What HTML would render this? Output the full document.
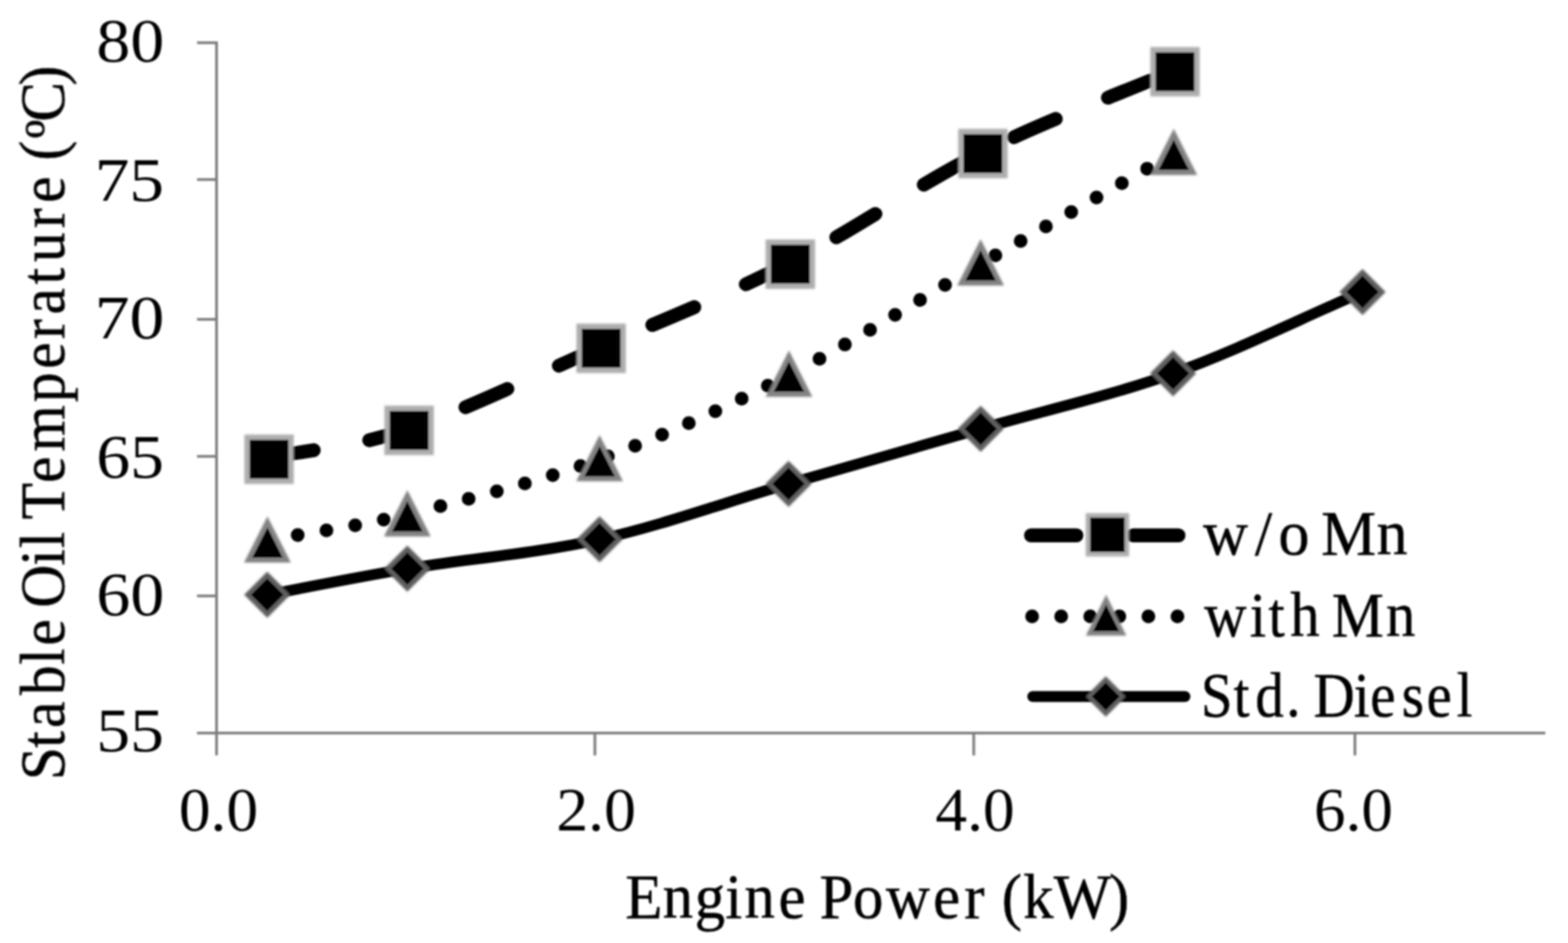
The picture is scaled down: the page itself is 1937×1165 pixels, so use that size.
<!DOCTYPE html>
<html lang="en"><head><meta charset="utf-8"><title>Stable Oil Temperature vs Engine Power</title>
<style>html,body{margin:0;padding:0;background:#fff;overflow:hidden;}body{width:1937px;height:1165px;}svg{display:block;}text{font-family:"Liberation Serif",serif;fill:#000;}text.w{stroke:#000;stroke-width:0.6px;stroke-linejoin:round;}</style></head><body>
<svg width="1937" height="1165" viewBox="0 0 1937 1165">
<defs><filter id="b" filterUnits="userSpaceOnUse" x="0" y="0" width="1937" height="1165"><feGaussianBlur stdDeviation="1.0"/></filter><filter id="a" filterUnits="userSpaceOnUse" x="0" y="0" width="1937" height="1165"><feGaussianBlur stdDeviation="0.6"/></filter><filter id="m" filterUnits="userSpaceOnUse" x="0" y="0" width="1937" height="1165"><feGaussianBlur stdDeviation="0.9"/></filter></defs>
<rect width="1937" height="1165" fill="#fff"/>
<g filter="url(#b)">
<g stroke="#7c7c7c" stroke-width="3.3" fill="none" filter="url(#a)">
<line x1="267.50" y1="51.20" x2="267.50" y2="933.30"/>
<line x1="243.40" y1="905.60" x2="1909.00" y2="905.60"/>
<line x1="243.40" y1="52.80" x2="267.50" y2="52.80"/>
<line x1="243.40" y1="221.80" x2="267.50" y2="221.80"/>
<line x1="243.40" y1="394.50" x2="267.50" y2="394.50"/>
<line x1="243.40" y1="563.80" x2="267.50" y2="563.80"/>
<line x1="243.40" y1="736.20" x2="267.50" y2="736.20"/>
<line x1="734.90" y1="905.60" x2="734.90" y2="933.30"/>
<line x1="1202.90" y1="905.60" x2="1202.90" y2="933.30"/>
<line x1="1673.80" y1="905.60" x2="1673.80" y2="933.30"/>
</g>
<g fill="none" stroke="#000" stroke-linecap="round" stroke-linejoin="round">
<path d="M330.10,734.80 C387.80,724.07 434.77,714.02 503.20,702.60 C571.63,691.18 662.22,683.77 740.70,666.30 C819.18,648.83 895.63,620.57 974.10,597.80 C1052.57,575.03 1132.32,552.45 1211.50,529.70 C1290.68,506.95 1370.58,489.45 1449.20,461.30 C1527.82,433.15 1605.20,394.30 1683.20,360.80" stroke-width="13.5"/>
<path d="M367.76,661.07h0 M403.28,655.24h0 M438.75,649.08h0 M474.05,642.04h0 M544.07,625.26h0 M578.95,616.36h0 M613.73,607.08h0 M648.38,597.32h0 M682.85,586.94h0 M717.08,575.79h0 M750.99,563.70h0 M784.58,550.76h0 M817.89,537.11h0 M850.93,522.80h0 M883.70,507.91h0 M916.23,492.48h0 M948.53,476.59h0 M1012.36,443.29h0 M1043.73,425.62h0 M1074.82,407.47h0 M1105.74,389.04h0 M1136.59,370.48h0 M1167.45,351.95h0 M1229.61,315.61h0 M1260.83,297.69h0 M1292.07,279.79h0 M1323.32,261.93h0 M1354.59,244.08h0 M1385.85,226.23h0 M1417.11,208.38h0" stroke-width="17.0"/>
<path d="M332.10,565.70 C389.77,553.80 436.73,552.85 505.10,530.00 C573.47,507.15 663.82,462.82 742.30,428.60 C820.78,394.38 897.40,364.80 976.00,324.70 C1054.60,284.60 1134.70,227.63 1213.90,188.00 C1293.10,148.37 1372.10,120.60 1451.20,86.90" stroke-width="17.2" stroke-dasharray="56.3 69.7"/>
</g>
<g fill="none" stroke="#000" stroke-linecap="round">
<path d="M1273.6,661.3 H1455.9" stroke-width="17.2" stroke-dasharray="56.3 69.7"/>
<path d="M1275,761.5 H1456" stroke-width="17.0" stroke-dasharray="0.01 35.9"/>
<path d="M1275.8,860.4 H1463.8" stroke-width="13.5"/>
</g>
<g filter="url(#m)">
<polygon points="330.10,706.30 358.60,734.80 330.10,763.30 301.60,734.80" fill="#5f5f5f"/>
<polygon points="503.20,674.10 531.70,702.60 503.20,731.10 474.70,702.60" fill="#5f5f5f"/>
<polygon points="740.70,637.80 769.20,666.30 740.70,694.80 712.20,666.30" fill="#5f5f5f"/>
<polygon points="974.10,569.30 1002.60,597.80 974.10,626.30 945.60,597.80" fill="#5f5f5f"/>
<polygon points="1211.50,501.20 1240.00,529.70 1211.50,558.20 1183.00,529.70" fill="#5f5f5f"/>
<polygon points="1449.20,432.80 1477.70,461.30 1449.20,489.80 1420.70,461.30" fill="#5f5f5f"/>
<polygon points="1683.20,332.30 1711.70,360.80 1683.20,389.30 1654.70,360.80" fill="#5f5f5f"/>
<polygon points="330.40,637.90 359.30,695.10 301.50,695.10" fill="#828282"/>
<polygon points="503.20,605.50 532.10,662.70 474.30,662.70" fill="#828282"/>
<polygon points="740.70,537.40 769.60,594.60 711.80,594.60" fill="#828282"/>
<polygon points="974.60,433.00 1003.50,490.20 945.70,490.20" fill="#828282"/>
<polygon points="1211.40,295.60 1240.30,352.80 1182.50,352.80" fill="#828282"/>
<polygon points="1450.00,159.10 1478.90,216.30 1421.10,216.30" fill="#828282"/>
<rect x="301.90" y="536.90" width="61.00" height="61.00" fill="#adadad"/>
<rect x="474.90" y="501.20" width="61.00" height="61.00" fill="#adadad"/>
<rect x="712.10" y="399.80" width="61.00" height="61.00" fill="#adadad"/>
<rect x="945.80" y="295.90" width="61.00" height="61.00" fill="#adadad"/>
<rect x="1183.70" y="159.20" width="61.00" height="61.00" fill="#adadad"/>
<rect x="1421.00" y="58.10" width="61.00" height="61.00" fill="#adadad"/>
<rect x="1341.25" y="633.95" width="53.50" height="53.50" fill="#adadad"/>
<polygon points="1366.40,734.75 1391.40,785.25 1341.40,785.25" fill="#828282"/>
<polygon points="1366.00,835.40 1391.00,860.40 1366.00,885.40 1341.00,860.40" fill="#5f5f5f"/>
</g>
<g>
<polygon points="330.10,714.79 350.11,734.80 330.10,754.81 310.09,734.80" fill="#000"/>
<polygon points="503.20,682.59 523.21,702.60 503.20,722.61 483.19,702.60" fill="#000"/>
<polygon points="740.70,646.29 760.71,666.30 740.70,686.31 720.69,666.30" fill="#000"/>
<polygon points="974.10,577.79 994.11,597.80 974.10,617.81 954.09,597.80" fill="#000"/>
<polygon points="1211.50,509.69 1231.51,529.70 1211.50,549.71 1191.49,529.70" fill="#000"/>
<polygon points="1449.20,441.29 1469.21,461.30 1449.20,481.31 1429.19,461.30" fill="#000"/>
<polygon points="1683.20,340.79 1703.21,360.80 1683.20,380.81 1663.19,360.80" fill="#000"/>
<polygon points="330.40,651.65 349.22,688.90 311.58,688.90" fill="#000"/>
<polygon points="503.20,619.25 522.02,656.50 484.38,656.50" fill="#000"/>
<polygon points="740.70,551.15 759.52,588.40 721.88,588.40" fill="#000"/>
<polygon points="974.60,446.75 993.42,484.00 955.78,484.00" fill="#000"/>
<polygon points="1211.40,309.35 1230.22,346.60 1192.58,346.60" fill="#000"/>
<polygon points="1450.00,172.85 1468.82,210.10 1431.18,210.10" fill="#000"/>
<rect x="308.50" y="543.50" width="47.80" height="47.80" fill="#000"/>
<rect x="481.50" y="507.80" width="47.80" height="47.80" fill="#000"/>
<rect x="718.70" y="406.40" width="47.80" height="47.80" fill="#000"/>
<rect x="952.40" y="302.50" width="47.80" height="47.80" fill="#000"/>
<rect x="1190.30" y="165.80" width="47.80" height="47.80" fill="#000"/>
<rect x="1427.60" y="64.70" width="47.80" height="47.80" fill="#000"/>
<rect x="1346.75" y="639.45" width="42.50" height="42.50" fill="#000"/>
<polygon points="1366.40,747.15 1382.54,779.75 1350.26,779.75" fill="#000"/>
<polygon points="1366.00,843.18 1383.22,860.40 1366.00,877.62 1348.78,860.40" fill="#000"/>
</g>
<g>
<text x="118.95" y="75.80" font-size="76.2" textLength="83.89" lengthAdjust="spacingAndGlyphs">80</text>
<text x="116.93" y="247.80" font-size="76.2" textLength="85.70" lengthAdjust="spacingAndGlyphs">75</text>
<text x="116.91" y="418.10" font-size="76.2" textLength="86.02" lengthAdjust="spacingAndGlyphs">70</text>
<text x="118.95" y="589.50" font-size="76.2" textLength="83.60" lengthAdjust="spacingAndGlyphs">65</text>
<text x="118.93" y="759.50" font-size="76.2" textLength="83.91" lengthAdjust="spacingAndGlyphs">60</text>
<text x="119.10" y="928.10" font-size="76.2" textLength="83.43" lengthAdjust="spacingAndGlyphs">55</text>
<text x="220.96" y="1026.00" font-size="76.2" textLength="97.87" lengthAdjust="spacingAndGlyphs">0.0</text>
<text x="687.15" y="1026.00" font-size="76.2" textLength="98.50" lengthAdjust="spacingAndGlyphs">2.0</text>
<text x="1155.53" y="1026.00" font-size="76.2" textLength="97.90" lengthAdjust="spacingAndGlyphs">4.0</text>
<text x="1623.29" y="1026.00" font-size="76.2" textLength="97.33" lengthAdjust="spacingAndGlyphs">6.0</text>
<text class="w" transform="translate(78.90,0) rotate(-90) scale(0.9434,1)" x="-1021.61 -979.21 -953.36 -910.34 -870.63 -845.40 -822.00 -795.83 -740.77 -717.89 -694.49 -680.18 -632.45 -591.46 -526.58 -483.04 -443.86 -411.87 -372.31 -343.40 -298.75 -265.69 -242.29 -210.19 -181.11 -159.32 -111.90" y="0 0 0 0 0 0 0 0 0 0 0 0 0 0 0 0 0 0 0 0 0 0 0 -1.5 6 0 -1.5" font-size="78">Stable Oil Temperature (ºC)</text>
<text class="w" transform="translate(0,1134.00) scale(0.9606,1)" x="804.30 852.33 893.33 932.83 957.47 1001.31 1024.71 1053.97 1096.95 1139.27 1199.93 1240.21 1263.61 1288.20 1315.78 1355.20 1426.23" y="0" font-size="78">Engine Power (kW)</text>
<text class="w" transform="translate(0,684.60) scale(0.9812,1)" x="1514.75 1579.96 1609.56 1632.96 1663.29 1733.04" y="0" font-size="78">w/o Mn</text>
<text class="w" transform="translate(0,786.00) scale(0.9240,1)" x="1610.24 1670.92 1695.87 1725.04 1748.44 1780.51 1853.06" y="0" font-size="78">with Mn</text>
<text class="w" transform="translate(0,884.90) scale(0.9006,1)" x="1647.28 1692.29 1721.85 1764.46 1787.86 1801.99 1857.11 1879.69 1922.90 1956.80 1998.01" y="0" font-size="78">Std. Diesel</text>
</g>
</g>
</svg></body></html>
